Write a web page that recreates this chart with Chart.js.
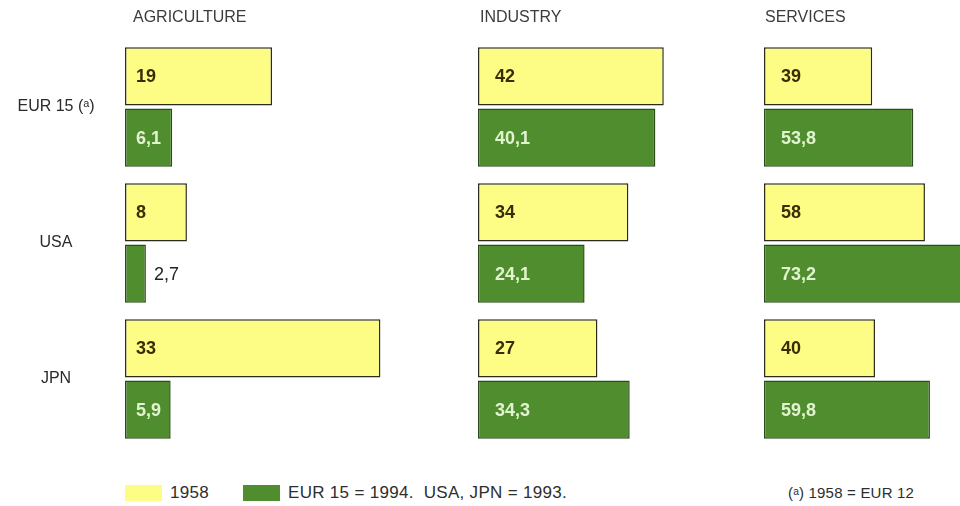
<!DOCTYPE html>
<html>
<head>
<meta charset="utf-8">
<script src="https://cdn.jsdelivr.net/npm/chart.js@4/dist/chart.umd.min.js"></script>
<style>
  html, body { margin: 0; padding: 0; background: #fff; overflow: hidden; }
  body { width: 960px; height: 506px; position: relative;
         font-family: "Liberation Sans", Arial, sans-serif; color: #2e2e2e; }
  canvas { position: absolute; top: 0; }
  #legend { position: absolute; left: 125px; top: 484px; height: 17px; display: flex; align-items: center; font-size: 17px; letter-spacing: 0.3px; white-space: pre; }
  #legend .sw { display: inline-block; width: 37px; height: 16px; margin-right: 8px; }
  #legend .item { display: flex; align-items: center; margin-right: 34px; }
  #note { position: absolute; left: 788px; top: 484px; height: 17px; line-height: 17px; font-size: 15px; letter-spacing: 0.2px; white-space: pre; }
</style>
</head>
<body>
<canvas id="agri" width="440" height="460" style="left:0"></canvas>
<canvas id="ind" width="232" height="460" style="left:476px"></canvas>
<canvas id="serv" width="224" height="460" style="left:762px"></canvas>
<div id="legend"></div>
<div id="note">(ᵃ) 1958 = EUR 12</div>
<script>
// Shares of employment by sector (%)
const categories = ['EUR 15 (ᵃ)', 'USA', 'JPN'];
const seriesNames = ['1958', 'EUR 15 = 1994.  USA, JPN = 1993.'];

const agriculture1958 = [19, 8, 33];
const agricultureRecent = [6.1, 2.7, 5.9];
const industry1958 = [42, 34, 27];
const industryRecent = [40.1, 24.1, 34.3];
const services1958 = [39, 58, 40];
const servicesRecent = [53.8, 73.2, 59.8];

const FONT = '"Liberation Sans", Arial, sans-serif';
const YELLOW = '#fdfd86';
const GREEN = '#4f8d2e';
const LABEL_ON = ['#3a2c05', '#e2f4cf'];
const CAT_FONT_SIZE = 16;
const CAT_AXIS_WIDTH = 125;   // first panel's bars start here
const CAT_CENTER = 56;        // centre line of the country names

function fmt(v) { return String(v).replace('.', ','); }

// widest country name, to centre the names on one vertical line
const probe = document.createElement('canvas').getContext('2d');
probe.font = CAT_FONT_SIZE + 'px ' + FONT;
const widestCat = Math.max(...categories.map(c => probe.measureText(c).width));
const catPadding = Math.max(0, CAT_AXIS_WIDTH - CAT_CENTER - widestCat / 2);

// Panel heading drawn in the top padding
const panelTitle = {
  id: 'panelTitle',
  afterDraw(chart, args, opts) {
    const ctx = chart.ctx;
    ctx.save();
    ctx.font = '16px ' + FONT;
    ctx.fillStyle = '#3c3c3c';
    ctx.textBaseline = 'middle';
    ctx.textAlign = 'left';
    ctx.fillText(opts.text, opts.x, 18);
    ctx.restore();
  }
};

// Value printed inside each bar, or just past its end when the bar is too short
const barValues = {
  id: 'barValues',
  afterDatasetsDraw(chart, args, opts) {
    const ctx = chart.ctx;
    ctx.save();
    ctx.textBaseline = 'middle';
    ctx.textAlign = 'left';
    chart.data.datasets.forEach((ds, di) => {
      chart.getDatasetMeta(di).data.forEach((bar, i) => {
        const txt = fmt(ds.data[i]);
        ctx.font = 'bold 18px ' + FONT;
        const w = ctx.measureText(txt).width;
        const left = Math.min(bar.base, bar.x);
        const len = Math.abs(bar.x - bar.base);
        if (len >= w + opts.pad + 6) {
          ctx.fillStyle = LABEL_ON[di];
          ctx.fillText(txt, left + opts.pad, bar.y + 1);
        } else {
          ctx.font = '18px ' + FONT;
          ctx.fillStyle = '#222';
          ctx.fillText(txt, bar.x + 8, bar.y + 1);
        }
      });
    });
    ctx.restore();
  }
};

function makeChart(id, old, recent, opts) {
  const yAxis = opts.showCats ? {
    display: true,
    afterFit: (axis) => {
      axis.width = CAT_AXIS_WIDTH;
      // the names sit beside the bars, so no extra room above or below the plot
      axis.paddingTop = 0;
      axis.paddingBottom = 0;
    },
    grid: { display: false, drawTicks: false },
    border: { display: false },
    ticks: { crossAlign: 'center', padding: catPadding, color: '#2a2a2a', font: { family: FONT, size: CAT_FONT_SIZE } }
  } : { display: false };

  return new Chart(document.getElementById(id), {
    type: 'bar',
    data: {
      labels: categories,
      datasets: [
        { label: seriesNames[0], data: old, backgroundColor: YELLOW, borderColor: '#2b2b1e' },
        { label: seriesNames[1], data: recent, backgroundColor: GREEN, borderColor: '#2d4a1c' }
      ]
    },
    options: {
      indexAxis: 'y',
      responsive: false,
      animation: false,
      devicePixelRatio: 1,
      layout: { padding: { left: opts.padLeft, top: 39, bottom: 13, right: 0 } },
      datasets: { bar: { categoryPercentage: 0.9, barPercentage: 0.95, borderWidth: 1.5, borderSkipped: false } },
      scales: {
        x: { display: false, min: 0, max: opts.max },
        y: yAxis
      },
      plugins: {
        legend: { display: false },
        tooltip: { enabled: false },
        panelTitle: { text: opts.title, x: opts.titleX },
        barValues: { pad: opts.valuePad }
      }
    },
    plugins: [panelTitle, barValues]
  });
}

const agri = makeChart('agri', agriculture1958, agricultureRecent,
  { title: 'AGRICULTURE', titleX: 133, max: 40.7, padLeft: 0, showCats: true, valuePad: 11 });
makeChart('ind', industry1958, industryRecent,
  { title: 'INDUSTRY', titleX: 4, max: 52, padLeft: 2, showCats: false, valuePad: 17 });
makeChart('serv', services1958, servicesRecent,
  { title: 'SERVICES', titleX: 3, max: 80, padLeft: 2, showCats: false, valuePad: 17 });

// Legend built from the datasets
const legend = document.getElementById('legend');
agri.data.datasets.forEach((ds) => {
  const item = document.createElement('span');
  item.className = 'item';
  const sw = document.createElement('span');
  sw.className = 'sw';
  sw.style.background = ds.backgroundColor;
  item.appendChild(sw);
  item.appendChild(document.createTextNode(ds.label));
  legend.appendChild(item);
});
</script>
</body>
</html>
